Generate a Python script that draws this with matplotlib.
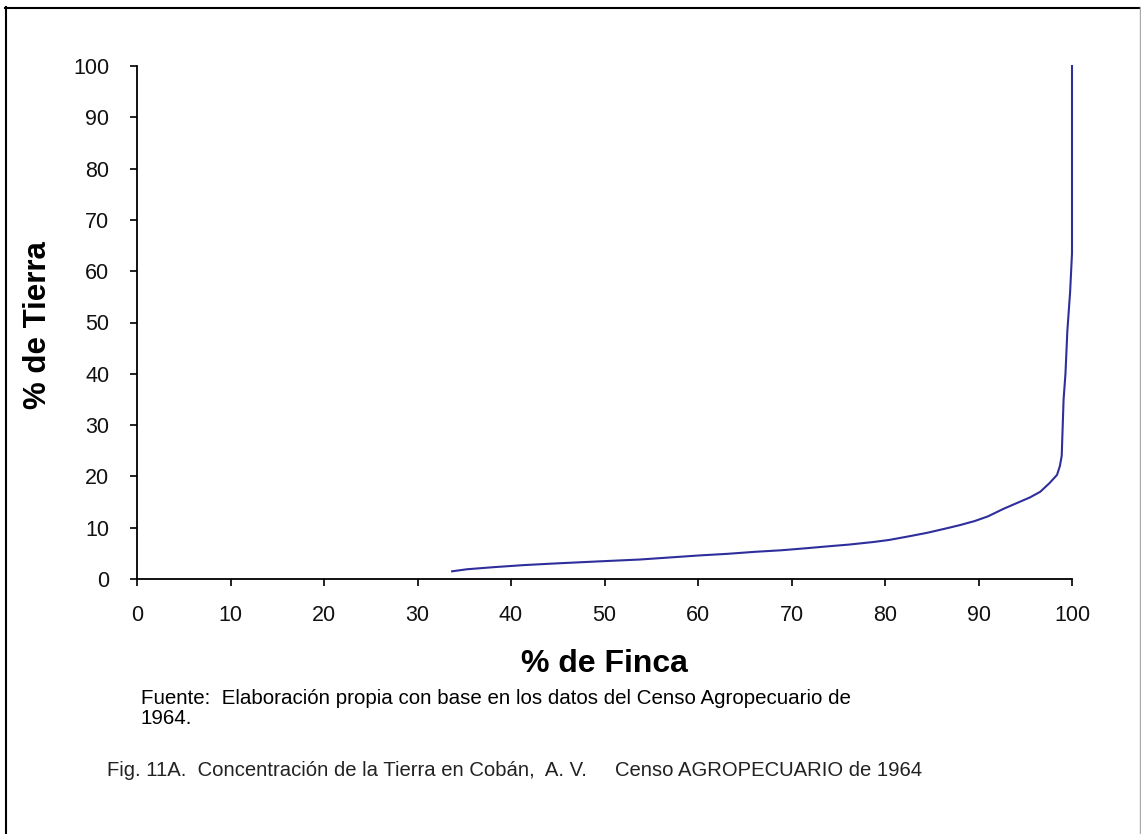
import matplotlib
matplotlib.use("Agg")
import matplotlib.pyplot as plt
from matplotlib.lines import Line2D

plt.rcParams['font.family'] = ['Liberation Sans', 'DejaVu Sans']

# Data (cumulative % of farms vs cumulative % of land)
pct_finca = [33.7, 35.3, 38.1, 41.3, 44.4, 49.0, 53.8, 57.0, 60.2, 63.1, 66.1,
             68.9, 71.6, 74.1, 76.1, 78.7, 80.4, 82.5, 84.5, 86.4, 88.0, 89.6,
             91.0, 92.7, 94.1, 95.5, 96.6, 97.6, 98.4, 98.7, 98.9, 99.1, 99.3,
             99.5, 99.8, 100.0, 100.0]
pct_tierra = [1.5, 1.9, 2.3, 2.7, 3.0, 3.4, 3.8, 4.2, 4.6, 4.9, 5.3,
              5.6, 6.0, 6.4, 6.7, 7.2, 7.6, 8.3, 9.0, 9.8, 10.5, 11.3,
              12.2, 13.7, 14.8, 15.9, 17.0, 18.7, 20.3, 22.0, 24.0, 35.0, 40.0,
              48.3, 56.0, 63.5, 100.0]
x_ticks = list(range(0, 101, 10))
y_ticks = list(range(0, 101, 10))

W, H = 1141, 834
fig = plt.figure(figsize=(W / 100, H / 100), dpi=100)
fig.patch.set_facecolor('white')

ax = fig.add_axes([137 / W, 1 - 579 / H, (1072 - 137) / W, (579 - 66) / H])
ax.plot(pct_finca, pct_tierra, color='#2E2E9C', linewidth=1.5,
        solid_joinstyle='miter', clip_on=False)
ax.set_xlim(0, 100)
ax.set_ylim(0, 100)
ax.set_xticks(x_ticks)
ax.set_yticks(y_ticks)
for s in ['top', 'right']:
    ax.spines[s].set_visible(False)
for s in ['left', 'bottom']:
    ax.spines[s].set_linewidth(1.3)
    ax.spines[s].set_color('black')
ax.tick_params(axis='both', direction='out', length=5, width=1.3,
               labelsize=15.5, colors='#111111')
ax.tick_params(axis='x', pad=14)
ax.tick_params(axis='y', pad=15)
ax.set_facecolor('white')

fig.text(604 / W, 1 - 664 / H, '% de Finca', ha='center', va='center',
         fontsize=23, fontweight='bold')
fig.text(38 / W, 1 - 325 / H, '% de Tierra', ha='center', va='center',
         fontsize=22.5, fontweight='bold', rotation=90)

fig.text(141 / W, 1 - 699 / H,
         'Fuente:  Elaboración propia con base en los datos del Censo Agropecuario de',
         ha='left', va='center', fontsize=14.8)
fig.text(141 / W, 1 - 719 / H, '1964.', ha='left', va='center', fontsize=14.8)
fig.text(107 / W, 1 - 771 / H,
         'Fig. 11A.  Concentración de la Tierra en Cobán,  A. V.     Censo AGROPECUARIO de 1964',
         ha='left', va='center', fontsize=14.6, color='#222222')

# outer frame
fig.add_artist(Line2D([6 / W, 6 / W], [0, 1 - 7 / H], transform=fig.transFigure,
                      color='black', linewidth=1.5))
fig.add_artist(Line2D([5 / W, 1], [1 - 7.5 / H, 1 - 7.5 / H], transform=fig.transFigure,
                      color='black', linewidth=1.5))
fig.add_artist(Line2D([1139.5 / W, 1139.5 / W], [0, 1 - 7 / H], transform=fig.transFigure,
                      color='#AAAAAA', linewidth=1.0))

fig.savefig('out.png', dpi=100, facecolor='white')
